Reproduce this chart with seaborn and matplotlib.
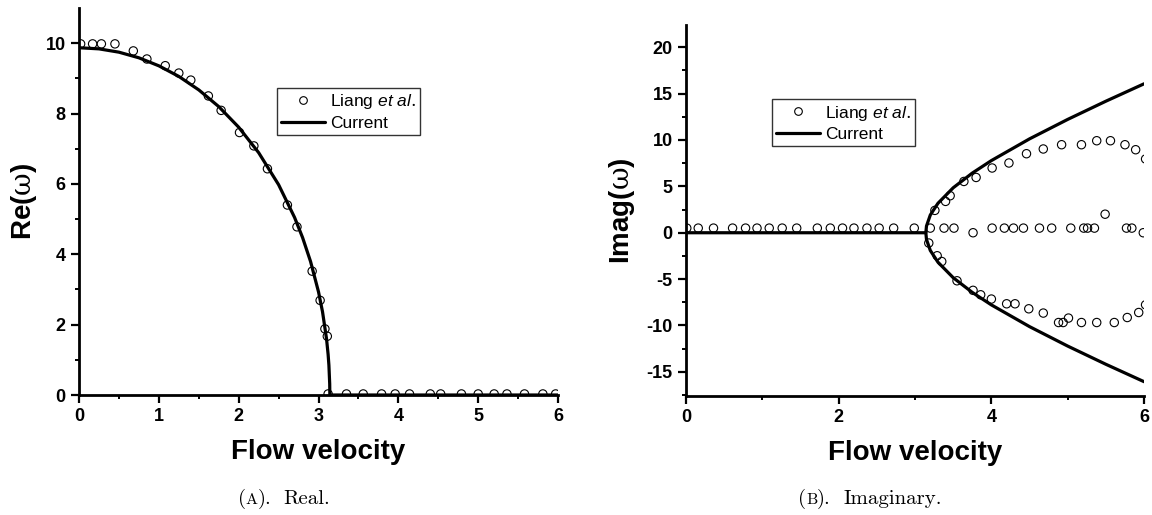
import numpy as np
import matplotlib
matplotlib.use("Agg")
import matplotlib.pyplot as plt
from matplotlib.lines import Line2D
from matplotlib.offsetbox import TextArea, HPacker, AnchoredOffsetbox
import seaborn as sns

# ---- (A) real part: present model curve ----
u_re_curve = [0.0, 0.25, 0.5, 0.75, 1.0, 1.25, 1.5, 1.75, 2.0, 2.25, 2.5, 2.7,
              2.8, 2.9, 3.0, 3.05, 3.1, 3.12, 3.13, 3.14, 3.1416, 4.0, 5.0, 6.0]
re_curve = [9.870, 9.838, 9.744, 9.584, 9.356, 9.055, 8.672, 8.197, 7.611, 6.888,
            5.977, 5.046, 4.476, 3.795, 2.930, 2.366, 1.601, 1.155, 0.847, 0.314,
            0.0, 0.0, 0.0, 0.0]

# ---- (A) real part: Liang et al. ----
u_re_liang = [0.02, 0.17, 0.28, 0.45, 0.68, 0.85, 1.08, 1.25, 1.40, 1.62, 1.78,
              2.01, 2.19, 2.36, 2.61, 2.73, 2.92, 3.02, 3.08, 3.11, 3.12,
              3.35, 3.56, 3.79, 3.96, 4.14, 4.40, 4.53, 4.79, 5.00, 5.20, 5.36,
              5.58, 5.81, 5.97]
re_liang = [9.98, 9.98, 9.98, 9.98, 9.78, 9.55, 9.36, 9.15, 8.95, 8.50, 8.09,
            7.46, 7.08, 6.43, 5.40, 4.78, 3.52, 2.69, 1.88, 1.67, 0.03,
            0.03, 0.03, 0.03, 0.03, 0.03, 0.03, 0.03, 0.03, 0.03, 0.03, 0.03,
            0.03, 0.03, 0.03]

# ---- (B) imaginary part: present model curve (upper branch incl. zero part) ----
u_im_upper = [0.0, 1.0, 2.0, 3.0, 3.1416, 3.15, 3.2, 3.3, 3.5, 3.75, 4.0, 4.5,
              5.0, 5.5, 6.0]
im_upper = [0.0, 0.0, 0.0, 0.0, 0.0, 0.723, 1.912, 3.173, 4.847, 6.433, 7.779,
            10.122, 12.220, 14.183, 16.059]
# lower branch beyond the critical velocity
u_im_lower = [3.1416, 3.15, 3.2, 3.3, 3.5, 3.75, 4.0, 4.5, 5.0, 5.5, 6.0]
im_lower = [0.0, -0.723, -1.912, -3.173, -4.847, -6.433, -7.779, -10.122,
            -12.220, -14.183, -16.059]

# ---- (B) imaginary part: Liang et al. ----
u_im_liang = [0.01, 0.16, 0.36, 0.61, 0.78, 0.93, 1.09, 1.26, 1.45, 1.72, 1.89,
              2.05, 2.20, 2.37, 2.53, 2.72, 2.99, 3.20, 3.38, 3.51, 3.76, 4.01,
              4.17, 4.29, 4.42, 4.63, 4.79, 5.04, 5.21, 5.26, 5.35, 5.49, 5.77,
              5.84, 5.99,
              3.26, 3.40, 3.46, 3.64, 3.80, 4.01, 4.23, 4.46, 4.68, 4.92, 5.18,
              5.38, 5.56, 5.75, 5.89, 6.02,
              3.18, 3.29, 3.35, 3.55, 3.76, 3.86, 4.00, 4.20, 4.31, 4.49, 4.68,
              4.88, 4.94, 5.01, 5.18, 5.38, 5.61, 5.78, 5.93, 6.02]
im_liang = [0.5, 0.5, 0.5, 0.5, 0.5, 0.5, 0.5, 0.5, 0.5, 0.5, 0.5,
            0.5, 0.5, 0.5, 0.5, 0.5, 0.5, 0.5, 0.5, 0.5, 0.0, 0.5,
            0.5, 0.5, 0.5, 0.5, 0.5, 0.5, 0.5, 0.5, 0.5, 2.0, 0.5,
            0.5, 0.0,
            2.41, 3.38, 3.99, 5.53, 5.96, 6.98, 7.52, 8.52, 9.03, 9.49, 9.49,
            9.92, 9.92, 9.49, 8.95, 7.95,
            -1.11, -2.48, -3.10, -5.18, -6.21, -6.69, -7.15, -7.66, -7.66,
            -8.20, -8.66, -9.68, -9.68, -9.20, -9.68, -9.68, -9.68, -9.14,
            -8.60, -7.77]

legend_labels = [r"Liang $\mathit{et\ al.}$", "Current"]

sns.set_theme(style="ticks")
plt.rcParams.update({
    "font.family": ["Liberation Sans", "DejaVu Sans"],
    "mathtext.fontset": "custom",
    "mathtext.it": "Liberation Sans:italic",
    "mathtext.rm": "DejaVu Serif",
    "axes.unicode_minus": False,
    "text.color": "black",
    "axes.labelcolor": "black",
    "axes.linewidth": 2.0,
    "axes.edgecolor": "black",
    "xtick.direction": "out",
    "ytick.direction": "out",
    "xtick.major.size": 5.5,
    "ytick.major.size": 5.5,
    "xtick.major.width": 1.6,
    "ytick.major.width": 1.6,
    "xtick.minor.size": 3.0,
    "ytick.minor.size": 3.0,
    "xtick.minor.width": 1.4,
    "ytick.minor.width": 1.4,
    "xtick.color": "black",
    "ytick.color": "black",
    "xtick.labelcolor": "black",
    "ytick.labelcolor": "black",
    "legend.labelcolor": "black",
})

fig = plt.figure(figsize=(11.52, 5.15), dpi=100)
ax1 = fig.add_axes([0.0686, 0.233, 0.4158, 0.7515])
ax2 = fig.add_axes([0.5955, 0.2311, 0.3976, 0.7204])

line_kw = dict(color="black", linewidth=2.3, estimator=None, sort=False, legend=False)
mark_kw = dict(marker="o", s=36, facecolor="none", edgecolor="black",
               linewidth=0.8, color="black", legend=False, zorder=3)

# (A)
sns.lineplot(x=u_re_curve, y=re_curve, ax=ax1, **line_kw)
sns.scatterplot(x=u_re_liang, y=re_liang, ax=ax1, **mark_kw)
ax1.set_xlim(0, 6)
ax1.set_ylim(0, 11)
ax1.set_xticks(np.arange(0, 7, 1))
ax1.set_xticks(np.arange(0.5, 6, 1), minor=True)
ax1.set_yticks(np.arange(0, 11, 2))
ax1.set_yticks(np.arange(1, 11, 2), minor=True)
ax1.set_ylabel(r"Re($\mathrm{\omega}$)", fontsize=20, fontweight="bold", labelpad=5)

# (B)
sns.lineplot(x=u_im_upper, y=im_upper, ax=ax2, **line_kw)
sns.lineplot(x=u_im_lower, y=im_lower, ax=ax2, **line_kw)
sns.scatterplot(x=u_im_liang, y=im_liang, ax=ax2, **mark_kw)
ax2.set_xlim(0, 6)
ax2.set_ylim(-17.6, 22.4)
ax2.set_xticks(np.arange(0, 7, 2))
ax2.set_xticks(np.arange(1, 6, 2), minor=True)
ax2.set_yticks(np.arange(-15, 21, 5))
ax2.set_yticks(np.arange(-17.5, 22.5, 5), minor=True)
ax2.set_ylabel(r"Imag($\mathrm{\omega}$)", fontsize=20, fontweight="bold", labelpad=7)

handles = [
    Line2D([], [], marker="o", linestyle="none", markerfacecolor="none",
           markeredgecolor="black", markersize=5.5, markeredgewidth=0.8),
    Line2D([], [], color="black", linewidth=2.3),
]

for ax, anchor in ((ax1, (0.413, 0.793)), (ax2, (0.188, 0.80))):
    sns.despine(ax=ax)
    ax.set_xlabel("Flow velocity", fontsize=20, fontweight="bold", labelpad=10)
    ax.tick_params(which="both", labelsize=13, pad=4)
    for lab in ax.get_xticklabels() + ax.get_yticklabels():
        lab.set_fontweight("bold")
    ax.grid(False)
    leg = ax.legend(handles, legend_labels, loc="upper left", bbox_to_anchor=anchor,
                    fontsize=12.5, frameon=True, fancybox=False, framealpha=1,
                    edgecolor="#333333", borderpad=0.25, labelspacing=0.25,
                    handlelength=2.5, handletextpad=0.3, borderaxespad=0)
    leg.get_frame().set_linewidth(1.0)


def caption(letter, word, x, y):
    serif = dict(family="cmr10", size=15, color="black")
    small = dict(family="cmr10", size=11.5, color="black")
    head = HPacker(children=[TextArea("(", textprops=serif),
                             TextArea(letter, textprops=small),
                             TextArea(").", textprops=serif)],
                   align="baseline", pad=0, sep=0)
    box = HPacker(children=[head, TextArea(word, textprops=serif)],
                  align="baseline", pad=0, sep=9)
    anchored = AnchoredOffsetbox(loc="center", child=box, pad=0, borderpad=0,
                                 frameon=False, bbox_to_anchor=(x, y),
                                 bbox_transform=fig.transFigure)
    fig.add_artist(anchored)


caption("A", "Real.", 284 / 1152, 0.031)
caption("B", "Imaginary.", 870 / 1152, 0.031)

fig.savefig("out.png", dpi=100)
